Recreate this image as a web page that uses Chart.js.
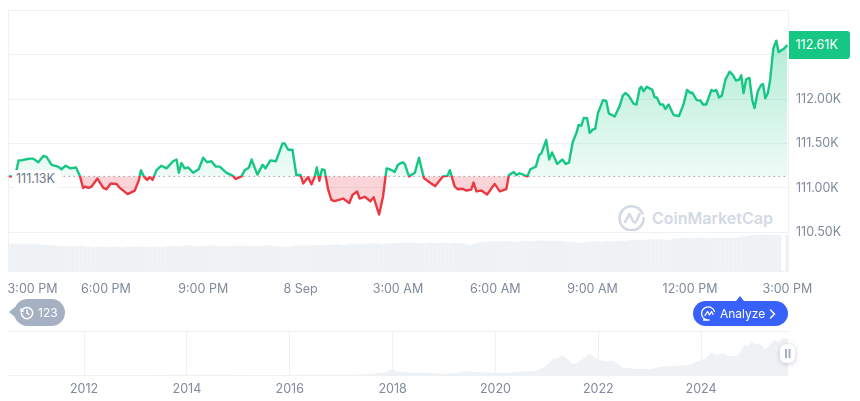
<!DOCTYPE html>
<html>
<head>
<meta charset="utf-8">
<script src="https://cdn.jsdelivr.net/npm/chart.js@4"></script>
<style>
    html, body { margin: 0; padding: 0; background: #fff; width: 860px; height: 401px; overflow: hidden; font-family: Inter, sans-serif; }
    canvas { position: absolute; left: 0; }
    #priceChart { top: 0; }
    #navChart { top: 320px; }
    .tag { position: absolute; box-sizing: border-box; font-size: 12.5px; line-height: 18px; white-space: nowrap; }
    #lastTag { left: 789px; width: 61px; height: 28px; line-height: 28px; padding-left: 6.5px; background: #16c784; color: #fff; border-radius: 0 3px 3px 0; }
    #baseTag { left: 11.5px; width: 49px; height: 18px; padding-left: 4.5px; background: #fff; color: #6b7689; border-radius: 3px; }
    #watermark { position: absolute; left: 618px; top: 204px; height: 27px; display: flex; align-items: center; gap: 7px; color: #d3d9e5; font-size: 16px; font-weight: 600; }
    #history { position: absolute; left: 14px; top: 299px; width: 51px; height: 27px; border-radius: 14px; background: #a6b0c3; color: #fff; font-size: 12px; line-height: 27px; }
    #history::before { content: ''; position: absolute; left: -5px; top: 8px; border-style: solid; border-width: 5.5px 6px 5.5px 0; border-color: transparent #a6b0c3 transparent transparent; }
    #history svg { position: absolute; left: 6px; top: 7px; }
    #history span { position: absolute; left: 24px; }
    #analyze { position: absolute; left: 693px; top: 301px; width: 94.5px; height: 25px; border-radius: 13px; background: #3861fb; color: #fff; font-size: 12px; line-height: 25px; }
    #analyze::before { content: ''; position: absolute; left: 43px; top: -5px; border-style: solid; border-width: 0 4.5px 5px 4.5px; border-color: transparent transparent #3861fb transparent; }
    #analyze svg { position: absolute; }
    #analyze span { position: absolute; left: 27px; }
    #handle { position: absolute; left: 780px; top: 344px; width: 15px; height: 19px; border-radius: 6px; background: #fff; box-shadow: 0 1px 5px rgba(88,102,126,0.35); }
    #handle::before { content: ''; position: absolute; left: 5px; top: 5px; width: 1.5px; height: 9px; background: #a6b0c3; box-shadow: 3.5px 0 0 #a6b0c3; }
</style>
</head>
<body>
<div id="watermark">
    <svg width="27" height="27" viewBox="0 0 27 27" fill="none" stroke="#d3d9e5" stroke-width="2.6" stroke-linecap="round" stroke-linejoin="round">
        <path d="M24.5 9.5A12 12 0 1 0 25.5 14"/>
        <path d="M7 18l4.5-8 3.5 7c1 2 2.5 2 3.5 0l3-7"/>
    </svg>
    <span>CoinMarketCap</span>
</div>
<canvas id="priceChart" width="860" height="300"></canvas>
<canvas id="navChart" width="860" height="81"></canvas>
<div class="tag" id="baseTag">111.13K</div>
<div class="tag" id="lastTag">112.61K</div>
<div id="history">
    <svg width="14" height="14" viewBox="0 0 14 14" fill="none" stroke="#fff" stroke-width="1.5" stroke-linecap="round" stroke-linejoin="round">
        <path d="M2 4.5A5.6 5.6 0 1 1 1.4 7"/>
        <path d="M1 3v2.2h2.2"/>
        <path d="M7 4v3.2l2 1.2"/>
    </svg>
    <span>123</span>
</div>
<div id="analyze">
    <svg style="left:8px;top:5px" width="15" height="15" viewBox="0 0 15 15" fill="none" stroke="#fff" stroke-width="1.3" stroke-linecap="round" stroke-linejoin="round">
        <path d="M13.5 5.5A6.6 6.6 0 1 0 8 14H2.5"/>
        <path d="M4 9.5l2.5-4 2 3.5 2-3.5 1.5 3"/>
    </svg>
    <span>Analyze</span>
    <svg style="left:76px;top:8px" width="7" height="10" viewBox="0 0 7 10" fill="none" stroke="#fff" stroke-width="1.5" stroke-linecap="round" stroke-linejoin="round">
        <path d="M1.5 1l4 4-4 4"/>
    </svg>
</div>
<div id="handle"></div>
<script>
// hours since 3:00 PM and price in thousands
const hours = [
    0, 0.20, 0.27, 0.31, 0.40, 0.51, 0.66, 0.76, 0.92, 1.07, 1.17, 1.33, 1.53, 1.63, 1.76, 1.91, 2.08, 2.20, 2.30, 2.37,
    2.46, 2.56, 2.74, 2.92, 3.02, 3.15, 3.33, 3.43, 3.67, 3.89, 4.02, 4.08, 4.17, 4.27, 4.36, 4.44, 4.56, 4.71, 4.87, 5.07,
    5.18, 5.25, 5.33, 5.43, 5.54, 5.69, 5.86, 6.00, 6.12, 6.25, 6.39, 6.51, 6.72, 6.92, 7.00, 7.18, 7.28, 7.41, 7.49, 7.67,
    7.83, 7.92, 8.07, 8.24, 8.44, 8.51, 8.62, 8.75, 8.87, 9.00, 9.08, 9.23, 9.34, 9.44, 9.50, 9.58, 9.66, 9.74, 9.85, 9.95,
    10.05, 10.31, 10.50, 10.60, 10.74, 10.82, 10.98, 11.15, 11.25, 11.42, 11.54, 11.65, 11.75, 11.90, 12.00, 12.14, 12.21, 12.34, 12.52, 12.65,
    12.80, 12.98, 13.15, 13.39, 13.52, 13.60, 13.75, 13.85, 13.99, 14.11, 14.26, 14.33, 14.42, 14.57, 14.75, 14.98, 15.14, 15.34, 15.42, 15.57,
    15.65, 15.75, 15.99, 16.08, 16.25, 16.35, 16.42, 16.57, 16.66, 16.75, 16.91, 17.07, 17.17, 17.27, 17.39, 17.50, 17.57, 17.65, 17.73, 17.83,
    17.91, 18.01, 18.08, 18.16, 18.32, 18.42, 18.50, 18.68, 18.83, 18.93, 19.01, 19.11, 19.26, 19.35, 19.45, 19.50, 19.57, 19.67, 19.84, 19.91,
    19.98, 20.08, 20.17, 20.24, 20.34, 20.50, 20.66, 20.80, 20.91, 21.01, 21.07, 21.21, 21.32, 21.40, 21.50, 21.66, 21.73, 21.81, 21.89, 21.98,
    22.09, 22.22, 22.32, 22.42, 22.51, 22.58, 22.65, 22.73, 22.83, 22.92, 22.99, 23.09, 23.19, 23.25, 23.32, 23.40, 23.47, 23.57, 23.66, 23.73,
    23.91, 24.00
];
const prices = [
    111.13, 111.13, 111.24, 111.31, 111.31, 111.32, 111.33, 111.33, 111.29, 111.36, 111.35, 111.26, 111.24, 111.21, 111.25, 111.22, 111.23, 111.135, 111.00, 111.015,
    111.00, 111.015, 111.105, 111.00, 110.985, 111.05, 111.045, 111.00, 110.93, 110.97, 111.09, 111.20, 111.13, 111.09, 111.12, 111.09, 111.20, 111.25, 111.22, 111.30,
    111.32, 111.17, 111.28, 111.22, 111.23, 111.17, 111.21, 111.34, 111.29, 111.30, 111.24, 111.24, 111.17, 111.135, 111.10, 111.13, 111.20, 111.23, 111.32, 111.15,
    111.26, 111.22, 111.31, 111.30, 111.50, 111.50, 111.43, 111.43, 111.145, 111.145, 111.05, 111.12, 111.04, 111.13, 111.23, 111.08, 111.21, 111.20, 110.98, 110.865,
    110.85, 110.88, 110.83, 110.92, 110.96, 110.88, 110.90, 110.85, 110.895, 110.70, 110.90, 111.22, 111.21, 111.18, 111.26, 111.29, 111.27, 111.13, 111.17, 111.34,
    111.11, 111.06, 111.02, 111.13, 111.135, 111.20, 111.015, 110.985, 110.99, 110.97, 110.98, 111.06, 110.96, 110.97, 110.925, 111.045, 110.96, 110.985, 111.145, 111.18,
    111.145, 111.165, 111.13, 111.21, 111.24, 111.37, 111.39, 111.54, 111.32, 111.40, 111.27, 111.32, 111.27, 111.285, 111.52, 111.62, 111.71, 111.70, 111.79, 111.785,
    111.62, 111.66, 111.665, 111.84, 111.99, 111.98, 111.84, 111.805, 111.92, 112.04, 112.07, 112.04, 111.95, 111.94, 112.12, 112.14, 112.09, 112.14, 112.105, 112.02,
    112.02, 111.94, 111.94, 111.89, 111.94, 111.82, 111.81, 111.94, 112.105, 112.07, 112.075, 111.99, 111.985, 111.94, 111.94, 112.105, 112.09, 112.105, 112.02, 112.04,
    112.22, 112.31, 112.275, 112.21, 112.22, 112.27, 112.07, 112.225, 112.24, 111.99, 111.90, 112.09, 112.16, 112.17, 112.01, 112.07, 112.22, 112.575, 112.66, 112.53,
    112.575, 112.61
];
const basePrice = 111.13;

// 24h volume in billions, one bar every 7.5 minutes
const volumes = [
    27, 27.5, 27, 26.5, 27, 27, 26.5, 27, 26, 26,
    25.5, 26, 25, 25, 24.5, 25, 24.5, 24.5, 25, 24,
    24, 23.5, 24, 24, 23.5, 24, 24, 24, 23.5, 24,
    24, 24, 24.5, 24, 24, 23.5, 24, 24, 24, 24.5,
    25, 25, 24.5, 25, 25.5, 25, 25, 24.5, 25, 25,
    25.5, 25, 25, 24.5, 25, 25, 25, 25.5, 25, 25,
    25, 24.5, 25, 25, 25.5, 25, 25, 24.5, 24, 24,
    25, 25.5, 25, 25.5, 25, 25.5, 26, 26, 25.5, 26,
    26, 26.5, 26, 25.5, 26.5, 27, 27, 26.5, 27, 27,
    27.5, 27, 26.5, 27, 27.5, 27.5, 28, 28.5, 28, 28.5,
    28, 28, 27.5, 28, 28.5, 28, 27.5, 28, 28, 27.5,
    28, 28, 27.5, 26.5, 26, 27, 28.5, 29, 29, 29.5,
    29, 29.5, 29.5, 30, 29.5, 29, 29.5, 30, 30, 29.5,
    30, 30.5, 30, 30, 29.5, 30, 30, 29.5, 29, 28.5,
    28.5, 28, 28.5, 29, 29.5, 29.5, 29, 29.5, 30, 29.5,
    29.5, 30, 30, 30.5, 31, 31, 30.5, 31, 31.5, 31,
    31, 31.5, 31, 31, 32, 32.5, 33, 33, 32.5, 33,
    33.5, 33, 33, 32.5, 33, 33, 33.5, 33, 33, 33.5,
    33.5, 34.5, 35, 35.5, 36, 36, 36.5, 36, 36, 35.5,
    36, null, 36
];

const priceTicks = [110.5, 111, 111.5, 112, 112.5, 113];
const hourTicks = [0.74, 3, 6, 9, 12, 15, 18, 21, 24];
const hourLabels = ['3:00 PM', '6:00 PM', '9:00 PM', '8 Sep', '3:00 AM', '6:00 AM', '9:00 AM', '12:00 PM', '3:00 PM'];

// all time overview, price in thousands
const navYears = [
    2010.53, 2012, 2013.2, 2013.95, 2014.5, 2015.5, 2016.5, 2017, 2017.5, 2017.85, 2017.99, 2018.1, 2018.2, 2018.72, 2019.0, 2019.3, 2019.47, 2019.7,
    2020.0, 2020.2, 2020.47, 2020.8, 2020.96, 2021.05, 2021.12, 2021.2, 2021.29, 2021.35, 2021.42, 2021.5, 2021.58, 2021.7, 2021.78, 2021.84, 2021.92, 2022.03, 2022.15, 2022.26, 2022.35, 2022.49, 2022.62, 2022.75, 2022.88, 2023.0,
    2023.15, 2023.27, 2023.45, 2023.66, 2023.8, 2023.92, 2024.08, 2024.2, 2024.3, 2024.43, 2024.55, 2024.7, 2024.86, 2024.92, 2024.99, 2025.05, 2025.12, 2025.25, 2025.33, 2025.41, 2025.5, 2025.6, 2025.69
];
const navPrices = [
    0, 0, 0.2, 0.9, 0.5, 0.3, 0.6, 1, 2.5, 8, 17, 11, 9, 6.3, 3.8, 8, 11.5, 9,
    7.3, 5.3, 10, 13, 27, 38, 53, 50, 64, 56, 48, 34, 38, 50, 60, 67, 55, 48, 42, 46, 38, 22, 21, 19, 20, 17,
    24, 27, 30, 29, 34, 43, 52, 70, 63, 68, 60, 60, 96, 92, 105, 97, 100, 82, 95, 110, 105, 118, 112
];
const navYearTicks = [2012, 2014, 2016, 2018, 2020, 2022, 2024];

const GREEN = '#16c784';
const RED = '#ea3943';
const GRID = '#eff2f5';
const TICK = '#808a9d';

Chart.defaults.font.family = 'Inter, sans-serif';
Chart.defaults.font.size = 12.5;
Chart.defaults.color = TICK;

// chart.js widens the margins for edge labels, the plot has to stay put
const noEdgePadding = axis => {
    axis.paddingLeft = axis.paddingRight = axis.paddingTop = axis.paddingBottom = 0;
};

const priceChart = new Chart(document.getElementById('priceChart'), {
    type: 'line',
    data: {
        datasets: [
            {
                data: hours.map((h, i) => ({ x: h, y: prices[i] })),
                yAxisID: 'y',
                borderWidth: 2.4,
                borderJoinStyle: 'round',
                pointRadius: 0,
                tension: 0,
                order: 1
            },
            {
                data: [{ x: 0, y: basePrice }, { x: 24, y: basePrice }],
                yAxisID: 'y',
                borderColor: '#98a3b6',
                borderWidth: 1,
                borderDash: [1.5, 3.5],
                pointRadius: 0,
                fill: false,
                order: 2
            },
            {
                type: 'bar',
                data: volumes.map((v, i) => ({ x: i * 0.125, y: v })),
                yAxisID: 'y2',
                backgroundColor: GRID,
                barThickness: 3.5,
                order: 3
            }
        ]
    },
    options: {
        responsive: false,
        animation: false,
        layout: { padding: { left: 8.5, top: 10.5, right: 0, bottom: 0 } },
        plugins: { legend: { display: false }, tooltip: { enabled: false } },
        scales: {
            x: {
                type: 'linear',
                offset: false,
                min: 0,
                max: 24.02,
                grid: { display: false, drawTicks: false },
                border: { color: GRID, width: 1 },
                afterBuildTicks: axis => { axis.ticks = hourTicks.map(v => ({ value: v })); },
                afterFit: axis => { axis.height = 29; noEdgePadding(axis); },
                ticks: {
                    autoSkip: false,
                    maxRotation: 0,
                    padding: 11,
                    callback: (v) => hourLabels[hourTicks.indexOf(v)]
                }
            },
            y: {
                position: 'right',
                min: 110.063,
                max: 113,
                grid: { color: GRID, drawTicks: false },
                border: { color: GRID },
                afterBuildTicks: axis => { axis.ticks = priceTicks.map(v => ({ value: v })); },
                afterFit: axis => { axis.width = 72; noEdgePadding(axis); },
                ticks: {
                    padding: 8,
                    callback: v => (v <= 112 ? v.toFixed(2) + 'K' : '')
                }
            },
            y2: {
                position: 'left',
                min: 0,
                max: 261,
                grid: { display: false },
                border: { color: GRID },
                ticks: { display: false },
                afterFit: axis => { axis.width = 0; noEdgePadding(axis); }
            }
        }
    }
});

// colours split at the base price, needs the finished scales
const area = priceChart.chartArea;
const scaleY = priceChart.scales.y;
const split = (scaleY.getPixelForValue(basePrice) - area.top) / (area.bottom - area.top);
const ctx = priceChart.ctx;

const lineGradient = ctx.createLinearGradient(0, area.top, 0, area.bottom);
lineGradient.addColorStop(0, GREEN);
lineGradient.addColorStop(split, GREEN);
lineGradient.addColorStop(split, RED);
lineGradient.addColorStop(1, RED);

const aboveGradient = ctx.createLinearGradient(0, scaleY.getPixelForValue(112.7), 0, scaleY.getPixelForValue(basePrice));
aboveGradient.addColorStop(0, 'rgba(22,199,132,0.34)');
aboveGradient.addColorStop(1, 'rgba(22,199,132,0.07)');

const priceSet = priceChart.data.datasets[0];
priceSet.borderColor = lineGradient;
priceSet.fill = { target: { value: basePrice }, above: aboveGradient, below: 'rgba(234,57,67,0.22)' };
priceChart.update('none');

document.getElementById('lastTag').style.top = (scaleY.getPixelForValue(prices[prices.length - 1]) - 14) + 'px';
document.getElementById('baseTag').style.top = (scaleY.getPixelForValue(basePrice) - 6.5) + 'px';

new Chart(document.getElementById('navChart'), {
    type: 'line',
    data: {
        datasets: [{
            data: navYears.map((y, i) => ({ x: y, y: navPrices[i] })),
            borderWidth: 0,
            pointRadius: 0,
            fill: 'origin',
            backgroundColor: GRID
        }]
    },
    options: {
        responsive: false,
        animation: false,
        layout: { padding: { left: 8.5, top: 11.5, right: 72, bottom: 0 } },
        plugins: { legend: { display: false }, tooltip: { enabled: false } },
        scales: {
            x: {
                type: 'linear',
                min: 2010.53,
                max: 2025.69,
                grid: { color: GRID, drawTicks: false },
                border: { color: GRID },
                afterBuildTicks: axis => { axis.ticks = navYearTicks.map(v => ({ value: v })); },
                afterFit: axis => { axis.height = 26; noEdgePadding(axis); },
                ticks: { autoSkip: false, maxRotation: 0, padding: 7, callback: v => String(v) }
            },
            y: {
                min: 0,
                max: 137,
                grid: { display: false },
                border: { display: false },
                ticks: { display: false },
                afterFit: axis => { axis.width = 0; noEdgePadding(axis); }
            },
            top: {
                position: 'top',
                type: 'linear',
                grid: { display: false },
                border: { color: GRID },
                ticks: { display: false },
                afterFit: axis => { axis.height = 0; noEdgePadding(axis); }
            }
        }
    }
});
</script>
</body>
</html>
